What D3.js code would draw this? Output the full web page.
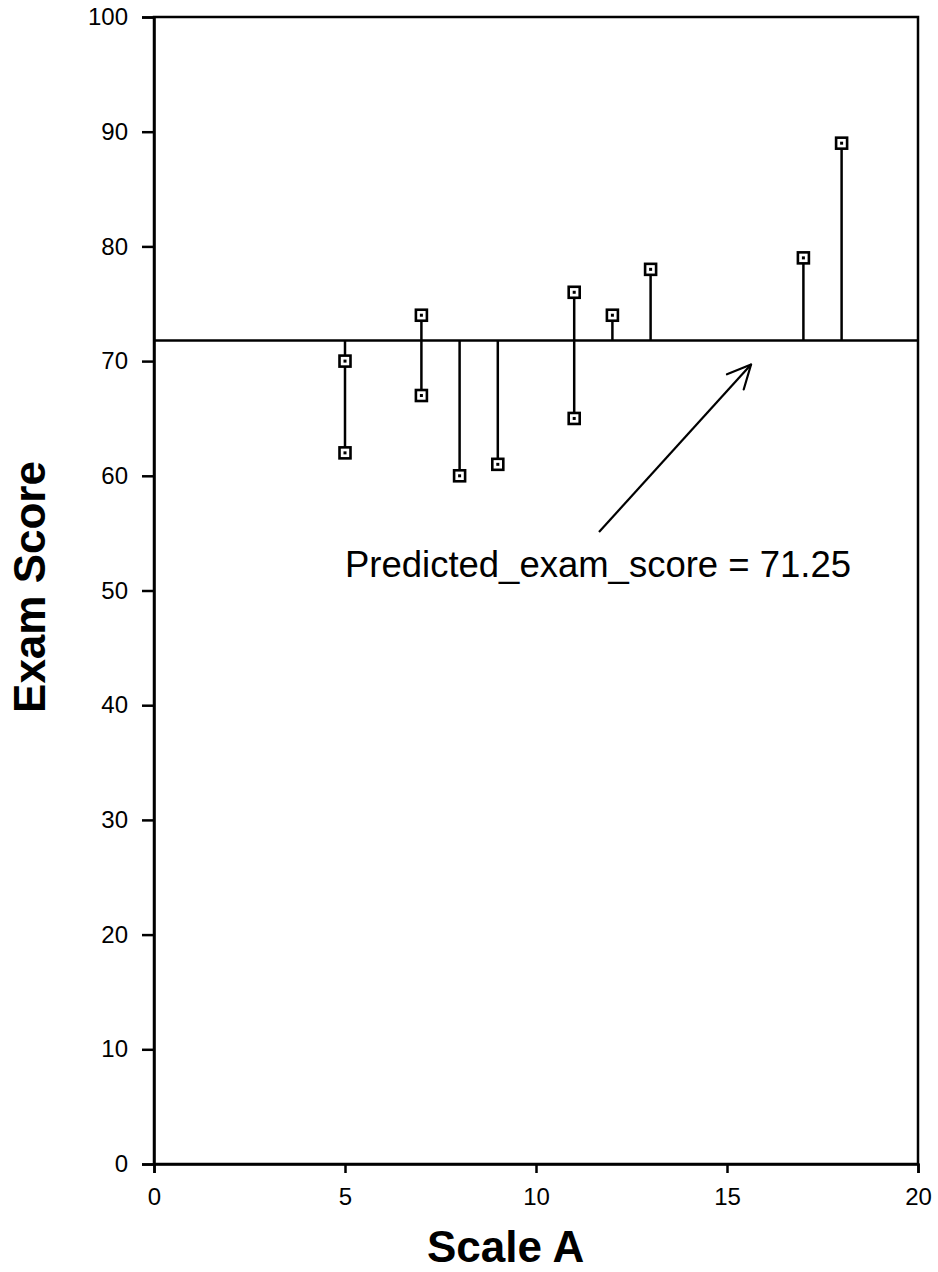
<!DOCTYPE html>
<html>
<head>
<meta charset="utf-8">
<script src="https://cdn.jsdelivr.net/npm/d3@7"></script>
<style>
  body { margin: 0; background: #fff; }
  text { font-family: "Liberation Sans", Arial, sans-serif; }
</style>
</head>
<body>
<svg id="chart" width="938" height="1272"></svg>
<script>
// Scores per student, plotted against Scale A
var scaleA = [5, 5, 7, 7, 8, 9, 11, 11, 12, 13, 17, 18];
var examScore = [70, 62, 74, 67, 60, 61, 76, 65, 74, 78, 79, 89];

// level of the horizontal prediction line as drawn
var predictedLine = 71.8;
var predictedLabel = "Predicted_exam_score = 71.25";

// arrow from label to line, in data units [x, y]
var arrowFrom = [11.65, 55.1];
var arrowTo = [15.63, 69.7];

var xTicks = [0, 5, 10, 15, 20];
var yTicks = [0, 10, 20, 30, 40, 50, 60, 70, 80, 90, 100];

var svg = d3.select("#chart");

var margin = {left: 154, right: 20, top: 17, bottom: 108};
var width = +svg.attr("width"),
    height = +svg.attr("height");

var x = d3.scaleLinear().domain([0, 20]).range([margin.left, width - margin.right]);
var y = d3.scaleLinear().domain([0, 100]).range([height - margin.bottom, margin.top]);

// Frame round the plot area
svg.append("rect")
    .attr("x", x(0)).attr("y", y(100))
    .attr("width", x(20) - x(0)).attr("height", y(0) - y(100))
    .attr("fill", "none")
    .attr("stroke", "#000")
    .attr("stroke-width", 2.5);

// Axes
var xAxis = svg.append("g")
    .attr("transform", "translate(0," + y(0) + ")")
    .call(d3.axisBottom(x).tickValues(xTicks).tickSize(9).tickPadding(15));

var yAxis = svg.append("g")
    .attr("transform", "translate(" + x(0) + ",0)")
    .call(d3.axisLeft(y).tickValues(yTicks).tickSize(12).tickPadding(14));

[xAxis, yAxis].forEach(function(ax){
  ax.select(".domain").attr("stroke-width", 2.5);
  ax.selectAll(".tick line").attr("stroke-width", 2.5);
  ax.selectAll(".tick text")
    .attr("font-family", "Liberation Sans, Arial, sans-serif")
    .attr("font-size", 24)
    .attr("fill", "#000");
});

// Prediction line
svg.append("line")
    .attr("x1", x(0)).attr("x2", x(20))
    .attr("y1", y(predictedLine)).attr("y2", y(predictedLine))
    .attr("stroke", "#000")
    .attr("stroke-width", 2.5);

var points = scaleA.map(function(d, i){ return {x: d, y: examScore[i]}; });

// Stems: for each Scale A value, span the line and every point there
var groups = d3.groups(points, function(d){ return d.x; });

svg.append("g").selectAll("line")
  .data(groups)
  .enter().append("line")
    .attr("x1", function(d){ return x(d[0]); })
    .attr("x2", function(d){ return x(d[0]); })
    .attr("y1", function(d){
      var ys = d[1].map(function(p){ return p.y; }).concat([predictedLine]);
      return y(d3.max(ys));
    })
    .attr("y2", function(d){
      var ys = d[1].map(function(p){ return p.y; }).concat([predictedLine]);
      return y(d3.min(ys));
    })
    .attr("stroke", "#000")
    .attr("stroke-width", 2.5);

// Square markers with a dot in the middle
var pts = svg.append("g").selectAll("g")
  .data(points)
  .enter().append("g")
    .attr("transform", function(d){ return "translate(" + x(d.x) + "," + y(d.y) + ")"; });

pts.append("rect")
    .attr("x", -5.5).attr("y", -5.5)
    .attr("width", 11).attr("height", 11)
    .attr("fill", "#fff")
    .attr("stroke", "#000")
    .attr("stroke-width", 2.6);

pts.append("rect")
    .attr("x", -1.5).attr("y", -1.5)
    .attr("width", 3).attr("height", 3)
    .attr("fill", "#000");

// Arrow with an open head
var ax1 = x(arrowFrom[0]), ay1 = y(arrowFrom[1]),
    ax2 = x(arrowTo[0]), ay2 = y(arrowTo[1]);
var ang = Math.atan2(ay2 - ay1, ax2 - ax1), headLen = 26, spread = 0.45;

svg.append("line")
    .attr("x1", ax1).attr("y1", ay1)
    .attr("x2", ax2).attr("y2", ay2)
    .attr("stroke", "#000").attr("stroke-width", 2.2);

[-spread, spread].forEach(function(s){
  svg.append("line")
      .attr("x1", ax2).attr("y1", ay2)
      .attr("x2", ax2 - headLen * Math.cos(ang + s))
      .attr("y2", ay2 - headLen * Math.sin(ang + s))
      .attr("stroke", "#000").attr("stroke-width", 2.2)
      .attr("stroke-linecap", "round");
});

svg.append("text")
    .attr("x", 345).attr("y", 577)
    .attr("font-size", 36)
    .attr("textLength", 506)
    .attr("lengthAdjust", "spacingAndGlyphs")
    .text(predictedLabel);

// Axis titles
svg.append("text")
    .attr("x", 427).attr("y", 1262)
    .attr("font-size", 44)
    .attr("font-weight", "bold")
    .text("Scale A");

svg.append("text")
    .attr("transform", "translate(45," + 587 + ") rotate(-90)")
    .attr("text-anchor", "middle")
    .attr("font-size", 44)
    .attr("font-weight", "bold")
    .text("Exam Score");
</script>
</body>
</html>
